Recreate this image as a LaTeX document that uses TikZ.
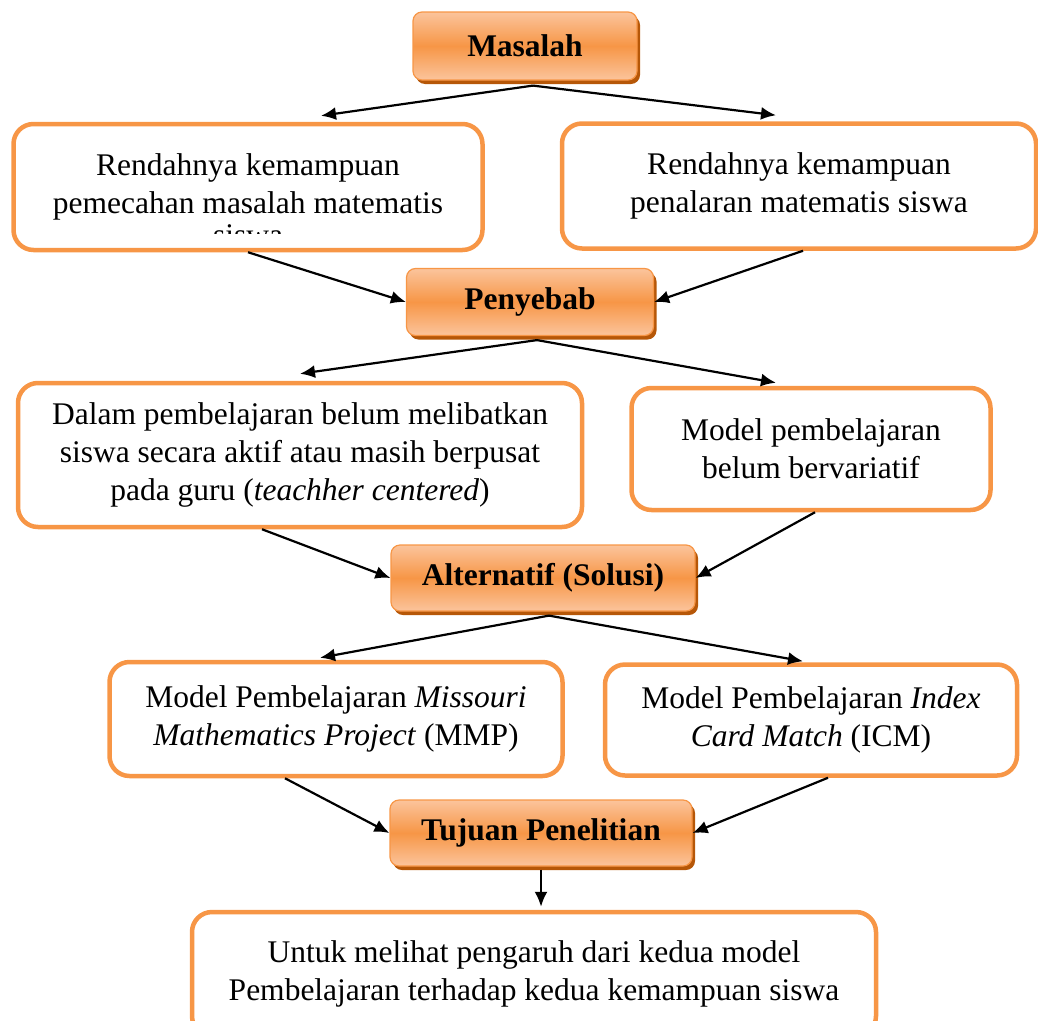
\documentclass[tikz,border=0pt]{standalone}
\usepackage{fontspec}
\setmainfont{Liberation Serif}
\usetikzlibrary{arrows.meta,shadows}
\definecolor{oranye}{HTML}{F79646}
\definecolor{oranyeMuda}{HTML}{FBC49C}
\definecolor{oranyeTua}{HTML}{B65708}

\begin{document}
\begin{tikzpicture}[x=1pt,y=-1pt,
    judul/.style={shape=rectangle,rounded corners=9pt,draw=oranye,line width=1.2pt,
        top color=oranyeMuda,bottom color=oranyeMuda,middle color=oranye,
        drop shadow={shadow xshift=3pt,shadow yshift=-4pt,fill=oranyeTua,opacity=1},
        font=\fontsize{31.5}{38}\selectfont\bfseries,inner sep=0pt},
    kotak/.style={shape=rectangle,rounded corners=20pt,draw=oranye,line width=4.5pt,
        fill=white,align=center,inner sep=0pt,font=\fontsize{31.5}{38}\selectfont},
    panah/.style={-{Latex[length=15pt,width=13pt]},line width=2.2pt}]
                \useasboundingbox (0,0) rectangle (1038,1020);

                \node[judul,minimum width=224pt,minimum height=68pt] (M) at (525,46) {Masalah};
                \node[kotak,minimum width=469pt,minimum height=126pt] (B1) at (248,187) {Rendahnya kemampuan\\pemecahan masalah matematis};
                \begin{scope}
                    \clip (20,170) rectangle (476,233);
                    \node[font=\fontsize{31.5}{38}\selectfont,anchor=base] (B1s) at (248,245) {siswa};
                \end{scope}
                \node[kotak,minimum width=474pt,minimum height=125pt] (B2) at (799,186) {Rendahnya kemampuan\\penalaran matematis siswa};

                \node[judul,minimum width=247pt,minimum height=67pt] (P) at (530,302) {Penyebab};
                \node[kotak,minimum width=564pt,minimum height=144pt] (B3) at (300,455) {Dalam pembelajaran belum melibatkan\\siswa secara aktif atau masih berpusat\\pada guru (\textit{teachher centered})};
                \node[kotak,minimum width=359pt,minimum height=122pt] (B4) at (811,449) {Model pembelajaran\\belum bervariatif};

                \node[judul,minimum width=304pt,minimum height=66pt] (A) at (543,578) {Alternatif (Solusi)};
                \node[kotak,minimum width=453pt,minimum height=114pt] (B5) at (336,719) {Model Pembelajaran \textit{Missouri}\\\textit{Mathematics Project} (MMP)};
                \node[kotak,minimum width=412pt,minimum height=111pt] (B6) at (811,720) {Model Pembelajaran \textit{Index}\\\textit{Card Match} (ICM)};

                \node[judul,minimum width=302pt,minimum height=66pt] (T) at (541,833) {Tujuan Penelitian};
                \node[kotak,minimum width=684pt,minimum height=124pt] (B7) at (534,974) {Untuk melihat pengaruh dari kedua model\\Pembelajaran terhadap kedua kemampuan siswa};

                \draw[panah] ([xshift=8pt,yshift=-5pt]M.south) -- ([xshift=73pt,yshift=6pt]B1.north);
                \draw[panah] ([xshift=8pt,yshift=-5pt]M.south) -- ([xshift=-23pt,yshift=6pt]B2.north);
                \draw[panah] (B1.south) -- (P.west);
                \draw[panah] ([xshift=4pt]B2.south) -- (P.east);
                \draw[panah] ([xshift=7pt,yshift=-4pt]P.south) -- ([yshift=7pt]B3.north);
                \draw[panah] ([xshift=7pt,yshift=-4pt]P.south) -- ([xshift=-35pt,yshift=3pt]B4.north);
                \draw[panah] ([xshift=-38pt]B3.south) -- (A.west);
                \draw[panah] ([xshift=4pt]B4.south) -- (A.east);
                \draw[panah] ([xshift=6pt,yshift=-4pt]A.south) -- ([xshift=-16pt,yshift=2pt]B5.north);
                \draw[panah] ([xshift=6pt,yshift=-4pt]A.south) -- ([xshift=-8pt,yshift=1pt]B6.north);
                \draw[panah] ([xshift=-51pt]B5.south) -- (T.west);
                \draw[panah] ([xshift=17pt]B6.south) -- (T.east);
                \draw[panah] ([yshift=-3pt]T.south) -- ([yshift=3pt]T.south |- B7.north);
            \end{tikzpicture}
\end{document}
